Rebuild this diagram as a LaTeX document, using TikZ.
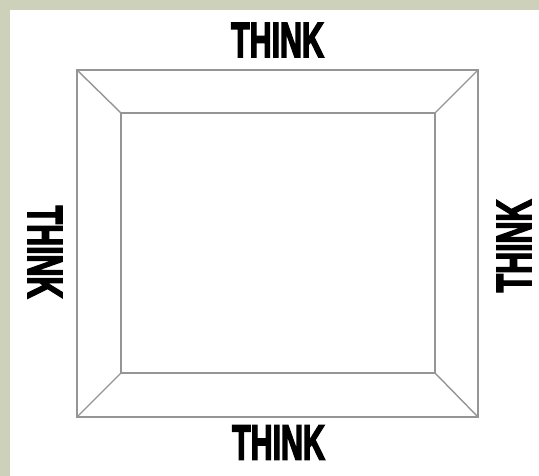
\documentclass[tikz,border=0pt]{standalone}
\usepackage{fontspec}
\newfontfamily\thinkfont[FakeBold=4]{Liberation Sans Bold}
\definecolor{bgframe}{HTML}{CDD1BA}
\definecolor{frameline}{HTML}{959595}
\begin{document}
\begin{tikzpicture}[x=1pt,y=-1pt,
  frameedge/.style={draw=frameline, line width=1.4pt, line join=miter},
  thinklabel/.style={inner sep=0pt, outer sep=0pt, font=\thinkfont\fontsize{49}{49}\selectfont, text=black}]
  % background
  \fill[bgframe] (0,0) rectangle (539,476);
  \fill[white] (10,10) rectangle (539,476);
  \useasboundingbox (0,0) rectangle (539,476);
  % corners
  \coordinate (otl) at (77,70);
  \coordinate (otr) at (478,70);
  \coordinate (obr) at (478,417);
  \coordinate (obl) at (77,417);
  \coordinate (itl) at (121,113);
  \coordinate (itr) at (435,113);
  \coordinate (ibr) at (435,373);
  \coordinate (ibl) at (121,373);
  \draw[frameedge] (otl) -- (otr) -- (obr) -- (obl) -- cycle;
  \draw[frameedge] (itl) -- (itr) -- (ibr) -- (ibl) -- cycle;
  \draw[frameedge] (otl) -- (itl);
  \draw[frameedge] (otr) -- (itr);
  \draw[frameedge] (obr) -- (ibr);
  \draw[frameedge] (obl) -- (ibl);
  % labels
  \node[thinklabel, xscale=0.62] (top) at (277.5,40) {THINK};
  \node[thinklabel, xscale=0.62] (bottom) at (278.5,442.5) {THINK};
  \node[thinklabel, rotate=-90, xscale=0.62] (left) at (45,252) {THINK};
  \node[thinklabel, rotate=90, xscale=0.62] (right) at (514,246) {THINK};
\end{tikzpicture}
\end{document}
